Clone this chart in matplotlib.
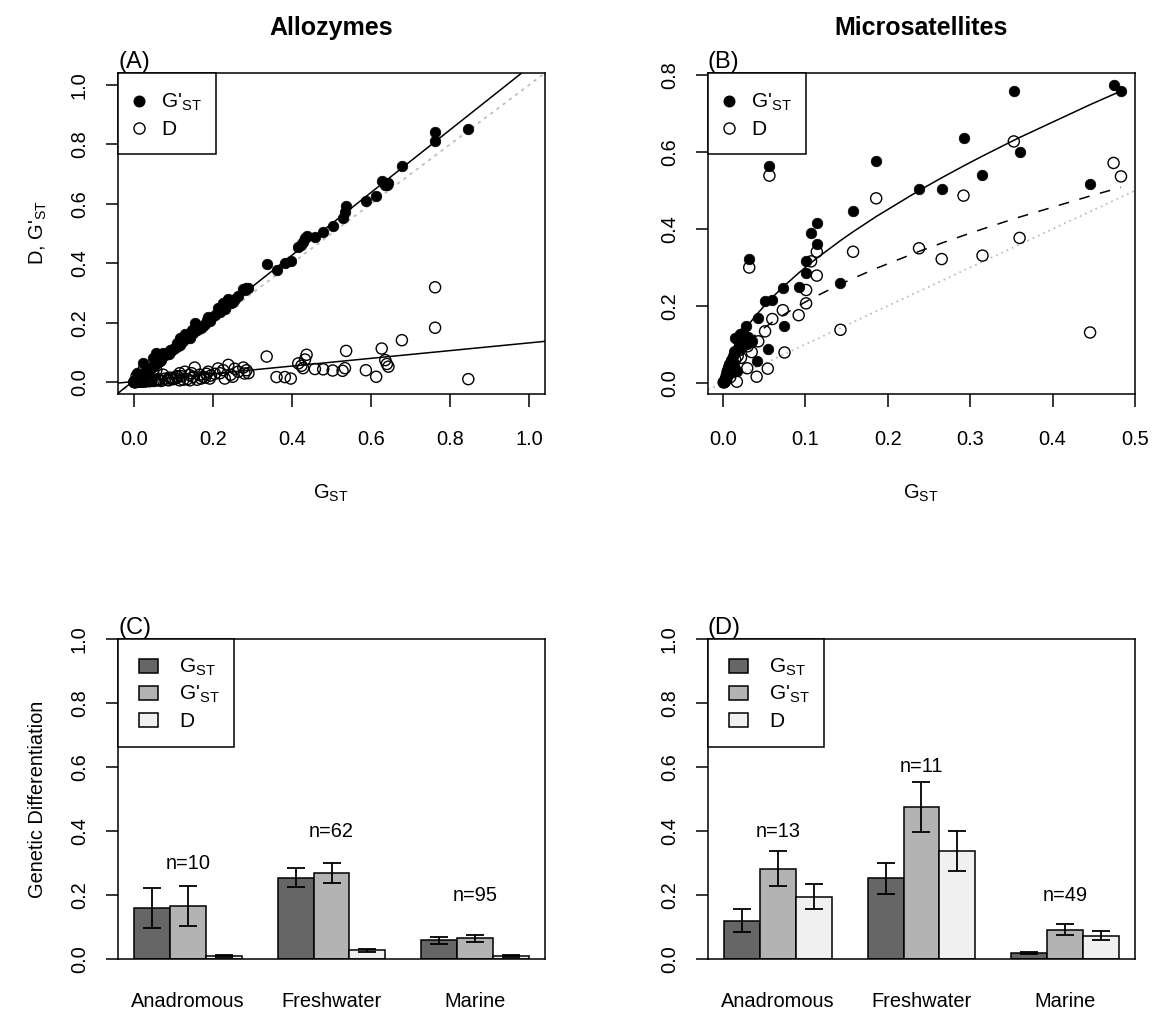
import numpy as np
import matplotlib.pyplot as plt
from matplotlib.patches import Rectangle
from matplotlib.ticker import FormatStrFormatter

plt.rcParams['font.family'] = ['Liberation Sans', 'DejaVu Sans']
plt.rcParams['mathtext.fontset'] = 'custom'
plt.rcParams['mathtext.rm'] = 'Liberation Sans'
plt.rcParams['mathtext.it'] = 'Liberation Sans:italic'
plt.rcParams['mathtext.bf'] = 'Liberation Sans:bold'

GST = r'G$_{\mathrm{ST}}$'
GPST = r"G'$_{\mathrm{ST}}$"

# ---- allozyme studies: G_ST, G'_ST and D per study ----
allo_gst = [0.846, 0.762, 0.762, 0.678, 0.627, 0.636, 0.644, 0.640, 0.613, 0.587,
            0.537, 0.534, 0.528, 0.503, 0.479, 0.458, 0.437, 0.433, 0.428, 0.416,
            0.424, 0.397, 0.382, 0.361, 0.336, 0.285, 0.280, 0.277, 0.264, 0.239,
            0.226, 0.230, 0.213, 0.218, 0.192, 0.188, 0.184, 0.175, 0.167, 0.154,
            0.150, 0.146, 0.142, 0.129, 0.116, 0.116, 0.108, 0.100, 0.091, 0.085,
            0.080, 0.074, 0.070, 0.065, 0.060, 0.057, 0.055, 0.050, 0.049, 0.045,
            0.040, 0.038, 0.035, 0.030, 0.028, 0.024, 0.022, 0.020, 0.018, 0.015,
            0.012, 0.010, 0.008, 0.007, 0.005, 0.003, 0.002, 0.001, 0.105, 0.120,
            0.135, 0.160, 0.170, 0.195, 0.205, 0.245, 0.250, 0.255, 0.290, 0.095,
            0.088, 0.062, 0.043, 0.033, 0.026, 0.016, 0.112, 0.125, 0.140, 0.180]
allo_gpst = [0.853, 0.843, 0.811, 0.727, 0.675, 0.664, 0.670, 0.662, 0.626, 0.611,
             0.593, 0.574, 0.551, 0.525, 0.506, 0.487, 0.491, 0.484, 0.470, 0.456,
             0.462, 0.407, 0.400, 0.377, 0.396, 0.315, 0.310, 0.312, 0.289, 0.278,
             0.265, 0.245, 0.248, 0.237, 0.205, 0.218, 0.209, 0.190, 0.187, 0.198,
             0.165, 0.176, 0.150, 0.162, 0.148, 0.125, 0.130, 0.110, 0.108, 0.095,
             0.090, 0.097, 0.075, 0.072, 0.068, 0.097, 0.060, 0.055, 0.080, 0.050,
             0.045, 0.042, 0.040, 0.034, 0.031, 0.063, 0.025, 0.022, 0.020, 0.017,
             0.014, 0.011, 0.009, 0.029, 0.006, 0.004, 0.002, 0.001, 0.115, 0.135,
             0.150, 0.175, 0.183, 0.215, 0.225, 0.265, 0.270, 0.280, 0.315, 0.104,
             0.094, 0.068, 0.048, 0.037, 0.029, 0.018, 0.122, 0.138, 0.153, 0.195]
allo_d = [0.010, 0.319, 0.183, 0.141, 0.113, 0.074, 0.052, 0.061, 0.018, 0.040,
          0.105, 0.047, 0.038, 0.039, 0.043, 0.044, 0.092, 0.076, 0.047, 0.063,
          0.055, 0.012, 0.017, 0.017, 0.086, 0.040, 0.029, 0.049, 0.035, 0.058,
          0.040, 0.012, 0.046, 0.030, 0.012, 0.035, 0.028, 0.018, 0.025, 0.049,
          0.018, 0.030, 0.006, 0.035, 0.030, 0.006, 0.020, 0.010, 0.015, 0.008,
          0.012, 0.025, 0.004, 0.006, 0.010, 0.040, 0.005, 0.004, 0.030, 0.005,
          0.003, 0.006, 0.004, 0.003, 0.002, 0.040, 0.002, 0.001, 0.003, 0.001,
          0.002, 0.001, 0.001, 0.020, 0.000, 0.000, 0.000, 0.000, 0.012, 0.020,
          0.010, 0.008, 0.012, 0.022, 0.028, 0.025, 0.018, 0.045, 0.030, 0.012,
          0.006, 0.008, 0.005, 0.010, 0.004, 0.002, 0.018, 0.008, 0.024, 0.015]

# ---- microsatellite studies ----
msat_gst = [0.474, 0.483, 0.353, 0.292, 0.360, 0.186, 0.0565, 0.315, 0.4455, 0.238,
            0.2655, 0.158, 0.114, 0.107, 0.114, 0.101, 0.032, 0.101, 0.0728, 0.092,
            0.1427, 0.060, 0.0512, 0.0748, 0.043, 0.0545, 0.041, 0.028, 0.0207, 0.015,
            0.0296, 0.025, 0.020, 0.018, 0.015, 0.012, 0.010, 0.008, 0.006, 0.005,
            0.004, 0.003, 0.002, 0.001, 0.030, 0.035, 0.022, 0.017, 0.013, 0.009]
msat_gpst = [0.776, 0.758, 0.758, 0.637, 0.600, 0.576, 0.565, 0.541, 0.518, 0.505,
             0.503, 0.446, 0.416, 0.390, 0.361, 0.318, 0.322, 0.287, 0.247, 0.250,
             0.260, 0.215, 0.214, 0.149, 0.169, 0.088, 0.0556, 0.149, 0.127, 0.116,
             0.100, 0.130, 0.105, 0.090, 0.080, 0.070, 0.060, 0.050, 0.040, 0.030,
             0.020, 0.010, 0.005, 0.002, 0.120, 0.110, 0.095, 0.030, 0.045, 0.025]
msat_d = [0.572, 0.537, 0.628, 0.487, 0.377, 0.480, 0.539, 0.331, 0.131, 0.350,
          0.322, 0.341, 0.341, 0.316, 0.279, 0.2415, 0.300, 0.2067, 0.189, 0.176,
          0.138, 0.166, 0.134, 0.079, 0.108, 0.037, 0.016, 0.104, 0.090, 0.080,
          0.038, 0.110, 0.085, 0.070, 0.060, 0.055, 0.040, 0.035, 0.030, 0.020,
          0.012, 0.005, 0.002, 0.001, 0.095, 0.080, 0.065, 0.003, 0.030, 0.015]

# fitted relationships (intercept, slope) and (coef, power)
allo_gpst_fit = (0.005, 1.055)
allo_d_fit = (0.002, 0.130)
msat_gpst_pow = (1.165, 0.589)
msat_d_pow = (0.765, 0.561)

# ---- habitat means with standard errors ----
habitats = ['Anadromous', 'Freshwater', 'Marine']
allo_n = [10, 62, 95]
allo_n_y = [0.297, 0.397, 0.197]
allo_gst_mean = [0.159, 0.254, 0.059]
allo_gst_se = [0.062, 0.029, 0.011]
allo_gpst_mean = [0.166, 0.269, 0.065]
allo_gpst_se = [0.062, 0.031, 0.011]
allo_d_mean = [0.008, 0.027, 0.008]
allo_d_se = [0.003, 0.004, 0.003]

msat_n = [13, 11, 49]
msat_n_y = [0.397, 0.600, 0.197]
msat_gst_mean = [0.120, 0.252, 0.020]
msat_gst_se = [0.035, 0.048, 0.003]
msat_gpst_mean = [0.282, 0.475, 0.092]
msat_gpst_se = [0.055, 0.078, 0.017]
msat_d_mean = [0.195, 0.337, 0.073]
msat_d_se = [0.040, 0.062, 0.013]

bar_cols = ['#666666', '#b3b3b3', '#f0f0f0']

FIG_W, FIG_H = 1156, 1011
LW = 1.1
FS = 14.4

fig = plt.figure(figsize=(FIG_W / 100, FIG_H / 100), dpi=100)


def add_panel(left, top, width, height):
    return fig.add_axes([left / FIG_W, 1 - (top + height) / FIG_H,
                         width / FIG_W, height / FIG_H])


def style_axes(ax, yticks, xticks=None):
    for s in ax.spines.values():
        s.set_linewidth(LW)
    ax.set_yticks(yticks)
    ax.yaxis.set_major_formatter(FormatStrFormatter('%.1f'))
    ax.tick_params(axis='y', length=9, width=LW, labelsize=FS, pad=12,
                   labelrotation=90)
    for lab in ax.get_yticklabels():
        lab.set_va('center')
    if xticks is not None:
        ax.set_xticks(xticks)
        ax.xaxis.set_major_formatter(FormatStrFormatter('%.1f'))
        ax.tick_params(axis='x', length=9, width=LW, labelsize=FS, pad=17)


def px_frac(ax, dx, dy):
    pos = ax.get_position()
    return dx / (pos.width * FIG_W), 1 - dy / (pos.height * FIG_H)


def key_frame(ax, w, h):
    x0, y0 = px_frac(ax, w, h)
    ax.add_patch(Rectangle((0, y0), x0, 1 - y0, transform=ax.transAxes,
                           facecolor='white', edgecolor='black', lw=LW,
                           zorder=6, clip_on=False))


def point_key(ax):
    key_frame(ax, 98, 81)
    for row, (lab, filled) in enumerate([(GPST, True), ('D', False)]):
        mx, my = px_frac(ax, 21, 28 + 27 * row)
        ax.plot([mx], [my], 'o', transform=ax.transAxes, ms=7.6 if filled else 8.0,
                mfc='black' if filled else 'none', mec='black', mew=1.0,
                zorder=7, clip_on=False)
        tx, ty = px_frac(ax, 43, 28 + 27 * row + 7)
        ax.text(tx, ty, lab, transform=ax.transAxes, fontsize=15,
                va='baseline', ha='left', zorder=7)


def bar_key(ax):
    key_frame(ax, 116, 108)
    for row, (lab, col) in enumerate(zip([GST, GPST, 'D'], bar_cols)):
        x0, y1 = px_frac(ax, 21, 27 * (row + 1) - 7)
        x1, y0 = px_frac(ax, 40, 27 * (row + 1) + 7)
        ax.add_patch(Rectangle((x0, y0), x1 - x0, y1 - y0, transform=ax.transAxes,
                               facecolor=col, edgecolor='black', lw=LW,
                               zorder=7, clip_on=False))
        tx, ty = px_frac(ax, 61, 27 * (row + 1) + 7)
        ax.text(tx, ty, lab, transform=ax.transAxes, fontsize=15,
                va='baseline', ha='left', zorder=7)


def scatter_panel(ax, gst, gpst, d):
    ax.scatter(gst, gpst, s=58, c='black', edgecolors='black', lw=0.5, zorder=3)
    ax.scatter(gst, d, s=64, facecolors='none', edgecolors='black', lw=1.0, zorder=3)


# ---- (A) allozymes ----
axA = add_panel(118, 73, 427, 321)
scatter_panel(axA, allo_gst, allo_gpst, allo_d)
axA.axline((0, 0), slope=1, color='#bebebe', lw=1.3, dashes=(1.8, 2.5), zorder=2)
axA.axline((0, allo_gpst_fit[0]), slope=allo_gpst_fit[1], color='black', lw=LW, zorder=4)
axA.axline((0, allo_d_fit[0]), slope=allo_d_fit[1], color='black', lw=LW, zorder=4)
axA.set_xlim(-0.04, 1.04)
axA.set_ylim(-0.04, 1.04)
style_axes(axA, np.arange(0, 1.01, 0.2), np.arange(0, 1.01, 0.2))
point_key(axA)
axA.text(0, 1, '(A)', transform=axA.transAxes, ha='left', va='bottom', fontsize=17)
axA.text(0.5, 1 + 45 / 321, 'Allozymes', transform=axA.transAxes, ha='center',
         va='center', fontsize=18, fontweight='bold')

# ---- (B) microsatellites ----
axB = add_panel(708, 73, 427, 321)
scatter_panel(axB, msat_gst, msat_gpst, msat_d)
axB.axline((0, 0), slope=1, color='#bebebe', lw=1.3, dashes=(1, 2.2), zorder=2)
xs = np.sort(np.array(msat_gst))
axB.plot(xs, msat_gpst_pow[0] * xs ** msat_gpst_pow[1], color='black', lw=LW, zorder=4)
axB.plot(xs, msat_d_pow[0] * xs ** msat_d_pow[1], color='black', lw=LW,
         dashes=(7, 7), zorder=4)
axB.set_xlim(-0.018, 0.5)
axB.set_ylim(-0.029, 0.806)
style_axes(axB, np.arange(0, 0.81, 0.2), np.arange(0, 0.51, 0.1))
point_key(axB)
axB.text(0, 1, '(B)', transform=axB.transAxes, ha='left', va='bottom', fontsize=17)
axB.text(0.5, 1 + 45 / 321, 'Microsatellites', transform=axB.transAxes, ha='center',
         va='center', fontsize=18, fontweight='bold')


def bar_panel(ax, means, ses, ns, n_y, letter):
    group_left = np.array([1, 5, 9])
    for k in range(3):
        xc = group_left + k + 0.5
        ax.bar(xc, means[k], width=1, color=bar_cols[k], edgecolor='black', lw=LW,
               zorder=2)
        ax.errorbar(xc, means[k], yerr=ses[k], fmt='none', ecolor='black',
                    elinewidth=1.3, capsize=6.5, capthick=1.3, zorder=3)
    centers = group_left + 1.5
    for xc, n, yy in zip(centers, ns, n_y):
        ax.text(xc, yy, f'n={n}', ha='center', va='center', fontsize=FS)
    ax.set_xlim(0.56, 12.44)
    ax.set_ylim(0, 1)
    style_axes(ax, np.arange(0, 1.01, 0.2))
    ax.set_xticks(centers)
    ax.set_xticklabels(habitats)
    ax.tick_params(axis='x', length=0, labelsize=FS, pad=24)
    bar_key(ax)
    ax.text(0, 1, letter, transform=ax.transAxes, ha='left', va='bottom', fontsize=17)


axC = add_panel(118, 639, 427, 320)
bar_panel(axC, [allo_gst_mean, allo_gpst_mean, allo_d_mean],
          [allo_gst_se, allo_gpst_se, allo_d_se], allo_n, allo_n_y, '(C)')

axD = add_panel(708, 639, 427, 320)
bar_panel(axD, [msat_gst_mean, msat_gpst_mean, msat_d_mean],
          [msat_gst_se, msat_gpst_se, msat_d_se], msat_n, msat_n_y, '(D)')

# axis titles
fig.text(331 / FIG_W, 1 - 493 / FIG_H, GST, ha='center', va='center', fontsize=FS)
fig.text(921 / FIG_W, 1 - 493 / FIG_H, GST, ha='center', va='center', fontsize=FS)
fig.text(38 / FIG_W, 1 - 233 / FIG_H, 'D, ' + GPST, ha='center', va='center',
         rotation=90, fontsize=FS)
fig.text(38 / FIG_W, 1 - 799 / FIG_H, 'Genetic Differentiation', ha='center',
         va='center', rotation=90, fontsize=FS)

fig.savefig('out.png', dpi=100)
